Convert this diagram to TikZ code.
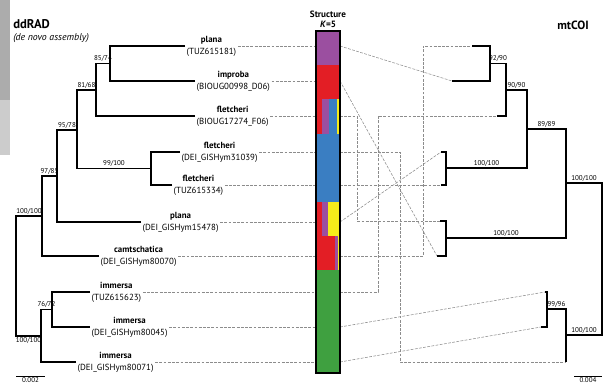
\documentclass[tikz,border=0pt]{standalone}
\usepackage{fontspec}
\setmainfont{PT Sans}
\usepackage{xcolor}
\usepackage{tikz}
\usetikzlibrary{
    positioning,
    calc
}
\definecolor{kpurple}{HTML}{9B4FA0}
\definecolor{kred}{HTML}{E31E25}
\definecolor{kblue}{HTML}{3A7EC2}
\definecolor{kyellow}{HTML}{F6EC1A}
\definecolor{kgreen}{HTML}{3FA040}
\definecolor{linkgray}{HTML}{8C8C8C}
\tikzstyle{branch} = [
    line width=0.8pt,
    black
]
\tikzstyle{leaf} = [
    anchor=west,
    inner sep=1pt,
    align=center,
    font=\fontsize{6.3}{8.5}\selectfont
]
\tikzstyle{supp} = [
    inner sep=1pt,
    font=\fontsize{5}{6}\selectfont
]
\tikzstyle{link} = [
    linkgray,
    line width=0.4pt,
    dash pattern=on 2pt off 1pt
]
\tikzstyle{title} = [
    anchor=west,
    inner sep=0pt,
    font=\fontsize{9}{10}\selectfont\bfseries
]

\begin{document}
\begin{tikzpicture}[x=0.025cm, y=-0.025cm]
    \useasboundingbox (0,0) rectangle (606,388);
    % page edge strip
    \fill[gray!65] (0,0) rectangle (10,100);
    \fill[gray!40] (0,100) rectangle (10,155);

    % titles
    \node[title] (ddrad) at (13,24) {ddRAD};
    \node[title, font=\fontsize{7}{8}\selectfont\itshape] (denovo) at (13,38) {(de novo assembly)};
    \node[title, anchor=center, font=\fontsize{8.5}{10}\selectfont\bfseries] (mtcoi) at (573,25) {mtCOI};
    \node[align=center, inner sep=0pt, font=\fontsize{6.5}{7.2}\selectfont\bfseries] (kstruct) at (328,19) {Structure\\\textit{K}=5};

    % ddRAD leaves
    \node[leaf] (lp1) at (185,46)  {\textbf{plana}\\(TUZ615181)};
    \node[leaf] (lim) at (195,81)  {\textbf{improba}\\(BIOUG00998\_D06)};
    \node[leaf] (lf1) at (195,116) {\textbf{fletcheri}\\(BIOUG17274\_F06)};
    \node[leaf] (lf2) at (180,152) {\textbf{fletcheri}\\(DEI\_GISHym31039)};
    \node[leaf] (lf3) at (172,185) {\textbf{fletcheri}\\(TUZ615334)};
    \node[leaf] (lp2) at (141,222) {\textbf{plana}\\(DEI\_GISHym15478)};
    \node[leaf] (lc)  at (99,256)  {\textbf{camtschatica}\\(DEI\_GISHym80070)};
    \node[leaf] (li1) at (90,292)  {\textbf{immersa}\\(TUZ615623)};
    \node[leaf] (li2) at (90,327)  {\textbf{immersa}\\(DEI\_GISHym80045)};
    \node[leaf] (li3) at (76,362)  {\textbf{immersa}\\(DEI\_GISHym80071)};

    % ddRAD inner nodes
    \coordinate (a1) at (110,63.5);
    \coordinate (a2) at (96,90);
    \coordinate (a3) at (151,168.5);
    \coordinate (a4) at (77,130);
    \coordinate (a5) at (57,176);
    \coordinate (a6) at (42,216);
    \coordinate (a7) at (52,309.5);
    \coordinate (a8) at (41,336);
    \coordinate (lroot) at (16,276);

    \draw[branch] (lp1.west) -| (a1);
    \draw[branch] (lim.west) -| (a1);
    \draw[branch] (a1) -| (a2) node[supp, pos=0.25, above] {85/74};
    \draw[branch] (lf1.west) -| (a2);
    \draw[branch] (lf2.west) -| (a3);
    \draw[branch] (lf3.west) -| (a3);
    \draw[branch] (a2) -| (a4) node[supp, pos=0.25, above] {81/68};
    \draw[branch] (a3) -| (a4) node[supp, pos=0.25, above] {99/100};
    \draw[branch] (a4) -| (a5) node[supp, pos=0.25, above] {95/78};
    \draw[branch] (lp2.west) -| (a5);
    \draw[branch] (a5) -| (a6) node[supp, pos=0.25, above] {97/85};
    \draw[branch] (lc.west) -| (a6);
    \draw[branch] (a6) -| (lroot) node[supp, pos=0.25, above] {100/100};
    \draw[branch] (li1.west) -| (a7);
    \draw[branch] (li2.west) -| (a7);
    \draw[branch] (a7) -| (a8) node[supp, pos=0.25, above] {76/72};
    \draw[branch] (li3.west) -| (a8);
    \draw[branch] (a8) -| (lroot) node[supp, pos=0.25, below] {100/100};

    % scale bar left
    \coordinate (sbl) at (16,376);
    \draw[branch, line width=0.6pt] (sbl) -- ++(29,0) node[supp, midway, below] {0.002};

    % structure bar
    \coordinate (barNW) at (316,31);
    \coordinate (barSE) at (340,373);

    % links ddRAD -> bar
    \foreach \lf in {lp1,lim,lf1,lf2,lf3,lp2,lc,li1,li2,li3}
        \draw[link] (\lf.east) -- (\lf.east -| barNW);

    % mtCOI tips
    \coordinate (tA) at (472,46);
    \coordinate (tB) at (452,81);
    \coordinate (tC) at (497,116);
    \coordinate (tD) at (441,152);
    \coordinate (tE) at (441,185);
    \coordinate (tF) at (440,221);
    \coordinate (tG) at (437,256);
    \coordinate (tH) at (545,292);
    \coordinate (tI) at (541,327);
    \coordinate (tJ) at (566,362);

    % links bar -> mtCOI
    \draw[link] (lp1 -| barSE) -- (tB);
    \draw[link] (lim -| barSE) -- (tG);
    \draw[link] (lf1 -| barSE) -- ++(17,0) |- (tF);
    \draw[link] (lf2 -| barSE) -- ++(60,0) |- (tJ);
    \draw[link] (lf3 -| barSE) -- (tE);
    \draw[link] (lp2 -| barSE) -- (tD);
    \draw[link] (lc -| barSE) -- ++(83,0) |- (tA);
    \draw[link] (li1 -| barSE) -- ++(38,0) |- (tC);
    \draw[link] (li2 -| barSE) -- (tH);
    \draw[link] (li3 -| barSE) -- (tI);

    % bar colours, K=5
    \fill[kpurple] (316,31) rectangle (340,65.2);
    \fill[kred] (316,65.2) rectangle (340,99.4);
    \fill[kred] (316,99.4) rectangle (322,133.6);
    \fill[kpurple] (322,99.4) rectangle (329,133.6);
    \fill[kblue] (329,99.4) rectangle (337,133.6);
    \fill[kyellow] (337,99.4) rectangle (340,133.6);
    \fill[kblue] (316,133.6) rectangle (340,202);
    \fill[kred] (316,202) rectangle (322,236.2);
    \fill[kpurple] (322,202) rectangle (328,236.2);
    \fill[kyellow] (328,202) rectangle (340,236.2);
    \fill[kred] (316,236.2) rectangle (335,270.4);
    \fill[kpurple] (335,236.2) rectangle (337.5,270.4);
    \fill[kyellow] (337.5,236.2) rectangle (340,270.4);
    \fill[kgreen] (316,270.4) rectangle (340,373);
    \draw[line width=1.2pt] (barNW) rectangle (barSE);

    % mtCOI inner nodes
    \coordinate (r1) at (490,63.5);
    \coordinate (r2) at (506,90);
    \coordinate (r3) at (446,168);
    \coordinate (r4) at (527,129);
    \coordinate (r5) at (446,238);
    \coordinate (r6) at (566,183);
    \coordinate (r7) at (547,309);
    \coordinate (r8) at (566,335);
    \coordinate (rroot) at (602,259);

    \draw[branch] (tA) -| (r1);
    \draw[branch] (tB) -| (r1);
    \draw[branch] (r1) -| (r2) node[supp, pos=0.25, above] {92/90};
    \draw[branch] (tC) -| (r2);
    \draw[branch] (tD) -| (r3);
    \draw[branch] (tE) -| (r3);
    \draw[branch] (r2) -| (r4) node[supp, pos=0.25, above] {90/90};
    \draw[branch] (r3) -| (r4) node[supp, pos=0.25, above] {100/100};
    \draw[branch] (tF) -| (r5);
    \draw[branch] (tG) -| (r5);
    \draw[branch] (r4) -| (r6) node[supp, pos=0.25, above] {89/89};
    \draw[branch] (r5) -| (r6) node[supp, pos=0.25, above] {100/100};
    \draw[branch] (tH) -| (r7);
    \draw[branch] (tI) -| (r7);
    \draw[branch] (r7) -| (r8) node[supp, pos=0.25, above] {99/96};
    \draw[branch] (tJ) -| (r8);
    \draw[branch] (r6) -| (rroot) node[supp, pos=0.25, above] {100/100};
    \draw[branch] (r8) -| (rroot) node[supp, pos=0.25, above] {100/100};

    % scale bar right
    \coordinate (sbr) at (574,376);
    \draw[branch, line width=0.6pt] (sbr) -- ++(28,0) node[supp, midway, below] {0.004};
\end{tikzpicture}
\end{document}
